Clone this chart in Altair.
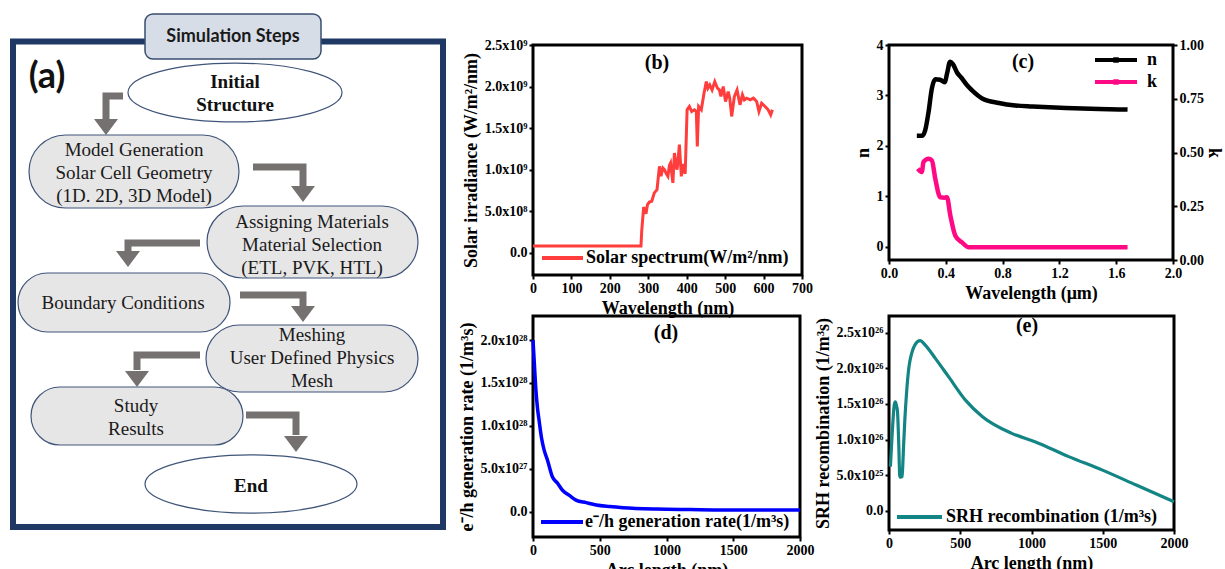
import altair as alt
import pandas as pd

SERIF = "Liberation Serif"
SANS = "Lato"
NAVY = "#1f3864"
GREY = "#767171"
NODE_FILL = "#e7e6e6"
NODE_STROKE = "#3f5479"

# ---------------- data ----------------
# (b) solar spectrum
b_wavelength = [0, 281, 283, 288, 294, 298, 302.7, 309, 315.7, 322.7, 329, 333, 338, 342, 347, 351,
                355, 358, 364, 368, 372, 375, 378, 381, 386, 390, 393, 396, 401, 407, 413, 420,
                425, 427.6, 431, 438, 445, 451, 455, 460, 466, 473, 480, 485, 489, 495, 501, 508,
                512, 517, 524, 531, 538.6, 545, 550, 556, 565, 573.6, 582, 588, 595, 604, 612,
                618.6, 623]
b_irradiance = [0.08e9, 0.08e9, 0.27e9, 0.55e9, 0.47e9, 0.58e9, 0.61e9, 0.62e9, 0.72e9, 0.76e9,
                1.04e9, 0.92e9, 1.02e9, 1.0e9, 0.95e9, 0.92e9, 1.05e9, 1.08e9, 0.84e9, 1.2e9,
                1.05e9, 1.0e9, 1.15e9, 1.3e9, 0.92e9, 1.07e9, 1.0e9, 0.95e9, 1.72e9, 1.76e9,
                1.7e9, 1.72e9, 1.7e9, 1.28e9, 1.76e9, 1.72e9, 1.92e9, 2.06e9, 1.98e9, 2.02e9,
                1.96e9, 2.06e9, 1.98e9, 1.96e9, 1.88e9, 2.0e9, 1.82e9, 1.94e9, 1.86e9, 1.64e9,
                1.88e9, 1.96e9, 1.78e9, 1.9e9, 1.84e9, 1.86e9, 1.84e9, 1.86e9, 1.82e9, 1.7e9,
                1.8e9, 1.76e9, 1.72e9, 1.66e9, 1.72e9]
b_x_ticks = [0, 100, 200, 300, 400, 500, 600, 700]
b_y_ticks = [0, 5e8, 1e9, 1.5e9, 2e9, 2.5e9]
b_y_labels = ["0.0", "5.0x10⁸", "1.0x10⁹", "1.5x10⁹", "2.0x10⁹", "2.5x10⁹"]

# (c) optical constants
c_n_wavelength = [0.196, 0.235, 0.255, 0.279, 0.302, 0.326, 0.36, 0.392, 0.41, 0.43, 0.45, 0.48,
                  0.51, 0.55, 0.585, 0.656, 0.774, 0.89, 1.01, 1.245, 1.48, 1.68]
c_n = [2.2, 2.2, 2.31, 2.68, 3.14, 3.32, 3.31, 3.26, 3.45, 3.67, 3.62, 3.45, 3.35, 3.2, 3.1,
       2.94, 2.85, 2.8, 2.78, 2.75, 2.73, 2.72]
c_k_wavelength = [0.203, 0.231, 0.243, 0.279, 0.302, 0.326, 0.361, 0.39, 0.408, 0.432, 0.467,
                  0.514, 0.562, 1.2, 1.68]
c_k = [0.425, 0.409, 0.456, 0.471, 0.463, 0.378, 0.292, 0.29, 0.292, 0.207, 0.113, 0.082,
       0.059, 0.059, 0.059]
c_x_ticks = [0.0, 0.4, 0.8, 1.2, 1.6, 2.0]
c_n_ticks = [0, 1, 2, 3, 4]
c_k_ticks = [0.0, 0.25, 0.5, 0.75, 1.0]

# (d) generation rate
d_arc = [0, 10, 20, 32.7, 45, 65, 83, 108, 146, 184, 221, 272, 322, 398, 473, 574, 674, 926,
         1177, 1429, 2000]
d_gen = [2.0e28, 1.73e28, 1.456e28, 1.22e28, 1.07e28, 0.85e28, 0.72e28, 0.603e28, 0.404e28,
         0.331e28, 0.25e28, 0.19e28, 0.135e28, 0.105e28, 0.078e28, 0.06e28, 0.047e28,
         0.031e28, 0.025e28, 0.02e28, 0.02e28]
d_x_ticks = [0, 500, 1000, 1500, 2000]
d_y_ticks = [0, 5e27, 1e28, 1.5e28, 2e28]
d_y_labels = ["0.0", "5.0x10²⁷", "1.0x10²⁸", "1.5x10²⁸", "2.0x10²⁸"]

# (e) SRH recombination
e_arc = [10, 20, 28, 38, 45, 52, 59, 69, 75, 80, 92, 98, 102, 111, 123, 140, 159, 182, 218,
         253, 325, 419, 538, 656, 858, 1024, 1261, 1498, 1735, 2000]
e_srh = [0.62e26, 1.0e26, 1.27e26, 1.5e26, 1.53e26, 1.48e26, 1.41e26, 0.9e26, 0.5e26, 0.47e26,
         0.48e26, 0.7e26, 0.9e26, 1.27e26, 1.65e26, 2.02e26, 2.21e26, 2.33e26, 2.39e26,
         2.33e26, 2.14e26, 1.88e26, 1.55e26, 1.32e26, 1.09e26, 0.97e26, 0.76e26, 0.57e26,
         0.36e26, 0.126e26]
e_x_ticks = [0, 500, 1000, 1500, 2000]
e_y_ticks = [0, 5e25, 1e26, 1.5e26, 2e26, 2.5e26]
e_y_labels = ["0.0", "5.0x10²⁵", "1.0x10²⁶", "1.5x10²⁶", "2.0x10²⁶", "2.5x10²⁶"]

# (a) flowchart texts
fc_pill_texts = [
    "Model Generation\nSolar Cell Geometry\n(1D. 2D, 3D Model)",
    "Assigning Materials\nMaterial Selection\n(ETL, PVK, HTL)",
    "Boundary Conditions",
    "Meshing\nUser Defined Physics\nMesh",
    "Study\nResults",
]
fc_ellipse_texts = ["Initial\nStructure", "End"]
fc_header = "Simulation Steps"

# ---------------- layout ----------------
A_W, A_H = 430, 482
B_W, B_H = 269, 230
C_W, C_H = 284, 215
D_W, D_H = 267, 221
E_W, E_H = 285, 214

# flowchart layout (panel units = px from the panel's top-left); text y = first line
pill_boxes = [(16, 226, 90, 163), (194, 405, 161, 233), (5, 217, 228, 287),
              (193, 405, 280, 347), (18, 230, 342, 400)]
pill_text_pos = [(121, 105), (299, 177), (110, 258), (299, 290), (123, 361)]
ellipse_pos = [(222, 47.5, 214), (238, 439, 212)]
ellipse_text_pos = [(222, 37), (238, 441)]
arrow_paths = [
    [(110, 51), (93, 51), (93, 75)],
    [(240, 122), (290, 122), (290, 142)],
    [(187, 198), (115, 198), (115, 210)],
    [(227, 250), (290, 250), (290, 262)],
    [(187, 310), (124, 310), (124, 325)],
    [(233, 370), (283, 370), (283, 390)],
]
arrow_tips = [(93, 90), (290, 157), (115, 222), (290, 277), (124, 342), (283, 407)]

ELLIPSE = ("M-1,0 C-1,-0.152 -0.552,-0.275 0,-0.275 C0.552,-0.275 1,-0.152 1,0 "
           "C1,0.152 0.552,0.275 0,0.275 C-0.552,0.275 -1,0.152 -1,0 Z")
HEAD = "M-1,-0.667 L1,-0.667 L0,0.667 Z"

one = pd.DataFrame({"k": [0]})


def lbl_expr(vals, labels):
    tol = max(abs(v) for v in vals) * 1e-6
    expr = "''"
    for v, l in reversed(list(zip(vals, labels))):
        expr = f"abs(datum.value - ({float(v)!r})) < {tol!r} ? '{l}' : {expr}"
    return expr


def text_at(x, y, txt, size=20, align="center"):
    return alt.Chart(one).mark_text(
        text=txt, font=SERIF, fontSize=size, fontWeight="bold", color="black",
        align=align, baseline="middle").encode(x=alt.value(x), y=alt.value(y))


def legend_line(x1, x2, y, color, width=4):
    return alt.Chart(one).mark_rule(color=color, strokeWidth=width).encode(
        x=alt.value(x1), x2=alt.value(x2), y=alt.value(y))


def legend_dot(x, y, color):
    return alt.Chart(one).mark_square(color=color, size=30, opacity=1).encode(
        x=alt.value(x), y=alt.value(y))


# ---------------- panel (a) ----------------
sx = alt.Scale(domain=[0, A_W], nice=False, zero=False)
sy = alt.Scale(domain=[0, A_H], nice=False, zero=False, reverse=True)


def rect_layer(x1, x2, y1, y2, **kw):
    df = pd.DataFrame({"x": [x1], "x2": [x2], "y": [y1], "y2": [y2]})
    return alt.Chart(df).mark_rect(**kw).encode(
        x=alt.X("x:Q", scale=sx, axis=None), x2="x2:Q",
        y=alt.Y("y:Q", scale=sy, axis=None), y2="y2:Q")


a_layers = [rect_layer(0, A_W, -3.5, A_H, fill="white", stroke=NAVY, strokeWidth=6)]
a_layers.append(rect_layer(132, 308, -31, 14, fill="#d7dde7", stroke="#3a4e70",
                           strokeWidth=1.5, cornerRadius=8))
a_layers.append(alt.Chart(pd.DataFrame({"x": [220], "y": [-8.5], "t": [fc_header]})).mark_text(
    font=SANS, fontSize=18, fontWeight="bold", color="#1a1a1a", baseline="middle").encode(
    x=alt.X("x:Q", scale=sx, axis=None), y=alt.Y("y:Q", scale=sy, axis=None), text="t:N"))
a_layers.append(alt.Chart(pd.DataFrame({"x": [34], "y": [32], "t": ["(a)"]})).mark_text(
    font=SANS, fontSize=36, fontWeight="bold", color="#111111", baseline="middle").encode(
    x=alt.X("x:Q", scale=sx, axis=None), y=alt.Y("y:Q", scale=sy, axis=None), text="t:N"))

for (x1, x2, y1, y2) in pill_boxes:
    a_layers.append(rect_layer(x1, x2, y1, y2, fill=NODE_FILL, stroke=NODE_STROKE,
                               strokeWidth=1.2, cornerRadius=(y2 - y1) / 2))

ell_df = pd.DataFrame({"x": [p[0] for p in ellipse_pos], "y": [p[1] for p in ellipse_pos],
                       "s": [p[2] ** 2 for p in ellipse_pos]})
a_layers.append(alt.Chart(ell_df).mark_point(
    shape=ELLIPSE, filled=True, fill="white", stroke=NODE_STROKE, strokeWidth=1.2,
    opacity=1).encode(x=alt.X("x:Q", scale=sx, axis=None), y=alt.Y("y:Q", scale=sy, axis=None),
                      size=alt.Size("s:Q", scale=None)))

shaft_rows = []
for i, path in enumerate(arrow_paths):
    for j, (px, py) in enumerate(path):
        shaft_rows.append({"arrow": i, "seq": j, "x": px, "y": py})
a_layers.append(alt.Chart(pd.DataFrame(shaft_rows)).mark_line(
    color=GREY, strokeWidth=7, strokeCap="butt", strokeJoin="miter").encode(
    x=alt.X("x:Q", scale=sx, axis=None), y=alt.Y("y:Q", scale=sy, axis=None),
    detail="arrow:N", order="seq:O"))
head_df = pd.DataFrame({"x": [t[0] for t in arrow_tips], "y": [t[1] - 8 for t in arrow_tips]})
a_layers.append(alt.Chart(head_df).mark_point(
    shape=HEAD, filled=True, fill=GREY, size=576, strokeWidth=0, opacity=1).encode(
    x=alt.X("x:Q", scale=sx, axis=None), y=alt.Y("y:Q", scale=sy, axis=None)))

pill_txt_df = pd.DataFrame({"x": [p[0] for p in pill_text_pos], "y": [p[1] for p in pill_text_pos],
                            "t": fc_pill_texts})
a_layers.append(alt.Chart(pill_txt_df).mark_text(
    font=SERIF, fontSize=19, color="#1a1a1a", lineBreak="\n", lineHeight=23,
    baseline="middle").encode(x=alt.X("x:Q", scale=sx, axis=None),
                              y=alt.Y("y:Q", scale=sy, axis=None), text="t:N"))
ell_txt_df = pd.DataFrame({"x": [p[0] for p in ellipse_text_pos],
                           "y": [p[1] for p in ellipse_text_pos], "t": fc_ellipse_texts})
a_layers.append(alt.Chart(ell_txt_df).mark_text(
    font=SERIF, fontSize=19, fontWeight="bold", color="#111111", lineBreak="\n", lineHeight=23,
    baseline="middle").encode(x=alt.X("x:Q", scale=sx, axis=None),
                              y=alt.Y("y:Q", scale=sy, axis=None), text="t:N"))

panel_a = alt.layer(*a_layers).properties(
    width=A_W, height=A_H, view=alt.ViewBackground(stroke="white", strokeWidth=0))

# ---------------- panel (b) ----------------
b_df = pd.DataFrame({"wl": b_wavelength, "irr": b_irradiance})
b_line = alt.Chart(b_df).mark_line(color="#ff3d3d", strokeWidth=3).encode(
    x=alt.X("wl:Q", scale=alt.Scale(domain=[0, 700], nice=False, zero=False),
            axis=alt.Axis(values=b_x_ticks, format="d", title="Wavelength (nm)")),
    y=alt.Y("irr:Q", scale=alt.Scale(domain=[-0.268e9, 2.5e9], nice=False, zero=False),
            axis=alt.Axis(values=b_y_ticks, labelExpr=lbl_expr(b_y_ticks, b_y_labels),
                          title="Solar irradiance (W/m²/nm)")))
panel_b = alt.layer(
    b_line,
    text_at(124, 18, "(b)"),
    legend_line(9, 50, 213, "#ff3d3d"),
    text_at(53, 213, "Solar spectrum(W/m²/nm)", size=18, align="left"),
).properties(width=B_W, height=B_H)

# ---------------- panel (c) ----------------
c_ndf = pd.DataFrame({"wl": c_n_wavelength, "n": c_n})
c_kdf = pd.DataFrame({"wl": c_k_wavelength, "k": c_k})
c_xscale = alt.Scale(domain=[0, 2], nice=False, zero=False)
c_nline = alt.Chart(c_ndf).mark_line(color="black", strokeWidth=4.5, interpolate="monotone").encode(
    x=alt.X("wl:Q", scale=c_xscale,
            axis=alt.Axis(values=c_x_ticks, format=".1f", title="Wavelength (μm)")),
    y=alt.Y("n:Q", scale=alt.Scale(domain=[-0.264, 4], nice=False, zero=False),
            axis=alt.Axis(values=c_n_ticks, format="d", title="n")))
c_kline = alt.Chart(c_kdf).mark_line(color="#ff0a84", strokeWidth=4.5, interpolate="monotone").encode(
    x=alt.X("wl:Q", scale=c_xscale),
    y=alt.Y("k:Q", scale=alt.Scale(domain=[0, 1], nice=False, zero=False),
            axis=alt.Axis(values=c_k_ticks, format=".2f", title="k", orient="right",
                          titlePadding=1)))
panel_c_lines = alt.layer(c_nline, c_kline).resolve_scale(y="independent")
panel_c = alt.layer(
    panel_c_lines,
    text_at(134, 17, "(c)"),
    legend_line(206, 248, 15, "black"),
    legend_line(206, 248, 37, "#ff0a84"),
    legend_dot(227, 15, "black"),
    legend_dot(227, 37, "#ff0a84"),
    text_at(258, 15, "n", size=18, align="left"),
    text_at(258, 37, "k", size=18, align="left"),
).resolve_scale(y="independent").properties(width=C_W, height=C_H)

# ---------------- panel (d) ----------------
d_df = pd.DataFrame({"arc": d_arc, "g": d_gen})
d_line = alt.Chart(d_df).mark_line(color="#0000ff", strokeWidth=3.5, interpolate="monotone").encode(
    x=alt.X("arc:Q", scale=alt.Scale(domain=[0, 2000], nice=False, zero=False),
            axis=alt.Axis(values=d_x_ticks, format="d", title="Arc length (nm)")),
    y=alt.Y("g:Q", scale=alt.Scale(domain=[-0.295e28, 2.28e28], nice=False, zero=False),
            axis=alt.Axis(values=d_y_ticks, labelExpr=lbl_expr(d_y_ticks, d_y_labels),
                          title="e⁻/h generation rate (1/m³s)")))
panel_d = alt.layer(
    d_line,
    text_at(133, 17, "(d)"),
    legend_line(8, 50, 206, "#0000ff"),
    text_at(52, 206, "e⁻/h generation rate(1/m³s)", size=18, align="left"),
).properties(width=D_W, height=D_H)

# ---------------- panel (e) ----------------
e_df = pd.DataFrame({"arc": e_arc, "r": e_srh})
e_line = alt.Chart(e_df).mark_line(color="#138584", strokeWidth=3.2, interpolate="monotone").encode(
    x=alt.X("arc:Q", scale=alt.Scale(domain=[0, 2000], nice=False, zero=False),
            axis=alt.Axis(values=e_x_ticks, format="d", title="Arc length (nm)")),
    y=alt.Y("r:Q", scale=alt.Scale(domain=[-0.271e26, 2.735e26], nice=False, zero=False),
            axis=alt.Axis(values=e_y_ticks, labelExpr=lbl_expr(e_y_ticks, e_y_labels),
                          title="SRH recombination (1/m³s)")))
panel_e = alt.layer(
    e_line,
    text_at(138, 10, "(e)"),
    legend_line(8, 53, 201, "#138584"),
    text_at(57, 201, "SRH recombination (1/m³s)", size=18, align="left"),
).properties(width=E_W, height=E_H)

right = alt.concat(panel_b, panel_c, panel_d, panel_e, columns=2,
                   spacing=alt.RowColnumber(row=41, column=87), bounds="flush")

chart = alt.hconcat(panel_a, right, spacing=90, bounds="flush").properties(
    padding={"left": 10, "top": 13, "right": 0, "bottom": 0}, background="white"
).configure_axis(
    labelFont=SERIF, labelFontSize=14, labelFontWeight="bold", labelColor="black",
    titleFont=SERIF, titleFontSize=18, titleFontWeight="bold", titleColor="black",
    tickColor="black", tickWidth=2, tickSize=4, domain=False, grid=False,
    labelPadding=2, titlePadding=4, labelFlush=False, labelOverlap=False,
).configure_view(stroke="black", strokeWidth=3)

chart.save("out.html", embed_options={"renderer": "svg", "actions": False})
